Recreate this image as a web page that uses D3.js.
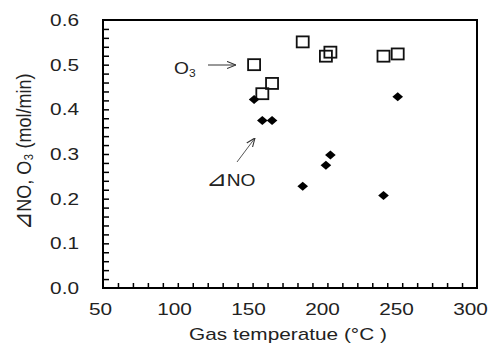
<!DOCTYPE html>
<html>
<head>
<meta charset="utf-8">
<script src="https://cdnjs.cloudflare.com/ajax/libs/d3/7.8.5/d3.min.js"></script>
<style>
  body { margin: 0; background: #fff; }
  text { font-family: "Liberation Sans", Arial, sans-serif; fill: #222; }
</style>
</head>
<body>
<svg id="chart" width="491" height="345"></svg>
<script>
// gas temperature (°C)
const temps = [151, 156.5, 163, 183.5, 199, 202, 237.5, 247];
// ⊿NO and O3 (mol/min)
const dNO = [0.422, 0.375, 0.375, 0.228, 0.275, 0.298, 0.207, 0.428];
const o3  = [0.500, 0.435, 0.458, 0.551, 0.519, 0.528, 0.519, 0.524];

const xTicks = [50, 100, 150, 200, 250, 300];
const yTicks = [0.0, 0.1, 0.2, 0.3, 0.4, 0.5, 0.6];

const svg = d3.select('#chart');
const m = { left: 103, top: 20, right: 477, bottom: 288 };
const sx = 1.3; // the original's lettering is wide

const x = d3.scaleLinear().domain([50, 300]).range([m.left, m.right]);
const y = d3.scaleLinear().domain([0, 0.6]).range([m.bottom, m.top]);
// tick labels sit a little left of their ticks in the original
const xLab = d3.scaleLinear().domain([50, 300]).range([100.5, 470.5]);

// minor ticks (inward)
const xMinor = d3.range(60, 300, 10);
const yMinor = d3.range(0.02, 0.6, 0.02);

const xAxis = d3.axisBottom(x).tickValues(xMinor).tickSize(-5).tickFormat('');
svg.append('g').attr('transform', `translate(0,${m.bottom})`).call(xAxis)
  .call(g => g.select('.domain').remove())
  .selectAll('line').attr('stroke', '#000').attr('stroke-width', 1.5);

const yAxis = d3.axisLeft(y).tickValues(yMinor).tickSize(-6).tickFormat('');
svg.append('g').attr('transform', `translate(${m.left},0)`).call(yAxis)
  .call(g => g.select('.domain').remove())
  .selectAll('line').attr('stroke', '#000').attr('stroke-width', 1.5);

// frame
svg.append('rect')
  .attr('x', m.left).attr('y', m.top)
  .attr('width', m.right - m.left).attr('height', m.bottom - m.top)
  .attr('fill', 'none').attr('stroke', '#000').attr('stroke-width', 2);

// tick labels
svg.append('g').selectAll('text').data(xTicks).join('text')
  .attr('transform', d => `translate(${xLab(d)},315) scale(${sx},1)`)
  .attr('text-anchor', 'middle').attr('font-size', 16)
  .text(d => d);

svg.append('g').selectAll('text').data(yTicks).join('text')
  .attr('transform', d => `translate(79,${y(d) + 6}) scale(${sx},1)`)
  .attr('text-anchor', 'end').attr('font-size', 16)
  .text(d => d.toFixed(1));

// axis titles
svg.append('text')
  .attr('transform', `translate(288,340) scale(${sx},1)`)
  .attr('text-anchor', 'middle').attr('font-size', 16)
  .text('Gas temperatue (°C )');

const yTitle = svg.append('text')
  .attr('transform', 'translate(31,152) rotate(-90) scale(1,1.15)')
  .attr('text-anchor', 'middle').attr('font-size', 18);
yTitle.append('tspan').attr('font-size', 22).text('⊿');
yTitle.append('tspan').text('NO, O₃ (mol/min)');

// O3: open squares
const pts = temps.map((t, i) => ({ t, no: dNO[i], o3: o3[i] }));
svg.append('g').selectAll('rect').data(pts).join('rect')
  .attr('x', d => x(d.t) - 6).attr('y', d => y(d.o3) - 5.5)
  .attr('width', 12).attr('height', 11)
  .attr('fill', 'none').attr('stroke', '#111').attr('stroke-width', 1.8);

// dNO: filled diamonds
const diamond = d3.symbol().type(d3.symbolDiamond2).size(72);
svg.append('g').selectAll('path').data(pts).join('path')
  .attr('transform', d => `translate(${x(d.t)},${y(d.no)}) scale(1,0.85)`)
  .attr('d', diamond)
  .attr('fill', '#000');

// annotations
svg.append('defs').append('marker')
  .attr('id', 'arr').attr('viewBox', '0 0 10 10')
  .attr('refX', 10).attr('refY', 5)
  .attr('markerWidth', 9).attr('markerHeight', 9)
  .attr('markerUnits', 'userSpaceOnUse')
  .attr('orient', 'auto')
  .append('path').attr('d', 'M0,1 L10,5 L0,9')
  .attr('fill', 'none').attr('stroke', '#333').attr('stroke-width', 1.2);

const o3Lab = svg.append('text')
  .attr('transform', 'translate(174,74) scale(1.2,1)').attr('font-size', 16);
o3Lab.append('tspan').text('O');
o3Lab.append('tspan').attr('font-size', 10).attr('dy', 3).text('3');

svg.append('line')
  .attr('x1', 208).attr('y1', 65).attr('x2', 236).attr('y2', 65)
  .attr('stroke', '#333').attr('stroke-width', 1)
  .attr('marker-end', 'url(#arr)');

const noLab = svg.append('text')
  .attr('transform', 'translate(206,186) scale(1.2,1)').attr('font-size', 16);
noLab.append('tspan').attr('font-size', 21).text('⊿');
noLab.append('tspan').text('NO');

svg.append('line')
  .attr('x1', 237).attr('y1', 162).attr('x2', 255).attr('y2', 138)
  .attr('stroke', '#555').attr('stroke-width', 1)
  .attr('marker-end', 'url(#arr)');
</script>
</body>
</html>
